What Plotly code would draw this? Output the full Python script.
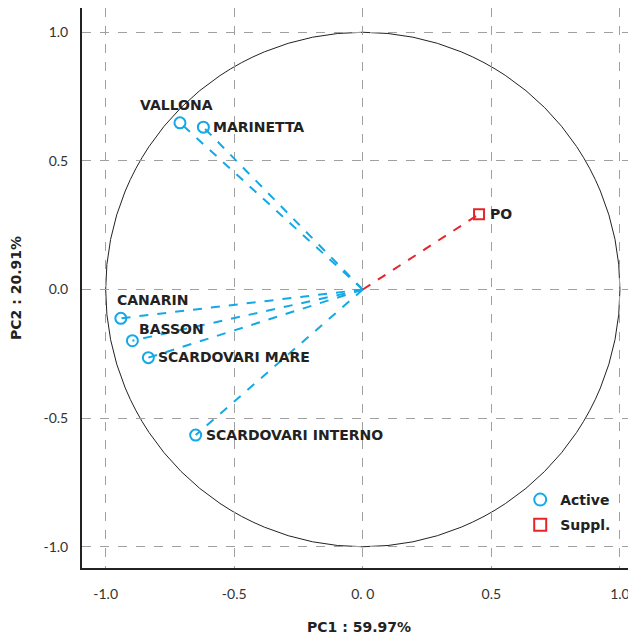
import plotly.graph_objects as go

# Active variables (PC1, PC2 loadings)
active_names = ["VALLONA", "MARINETTA", "CANARIN", "BASSON", "SCARDOVARI MARE", "SCARDOVARI INTERNO"]
active_pc1 = [-0.711, -0.620, -0.941, -0.896, -0.834, -0.650]
active_pc2 = [0.648, 0.631, -0.112, -0.199, -0.265, -0.566]

# Supplementary variables
suppl_names = ["PO"]
suppl_pc1 = [0.452]
suppl_pc2 = [0.293]

x_ticks = [-1.0, -0.5, 0.0, 0.5, 1.0]
x_ticktext = ["-1.0", "-0.5", "0. 0", "0.5", "1.0"]
y_ticks = [-1.0, -0.5, 0.0, 0.5, 1.0]
y_ticktext = ["-1.0", "-0.5", "0.0", "0.5", "1.0"]

x_title = "PC1 : 59.97%"
y_title = "PC2 : 20.91%"

BLUE = "#12a9e6"
RED = "#e8242b"
LABEL_FONT = dict(family="DejaVu Sans", size=14, color="#222222", weight="bold")

fig = go.Figure()

def spokes(xs, ys):
    lx, ly = [], []
    for x, y in zip(xs, ys):
        lx += [0, x, None]
        ly += [0, y, None]
    return lx, ly

ax, ay = spokes(active_pc1, active_pc2)
fig.add_trace(go.Scatter(x=ax, y=ay, mode="lines", line=dict(color=BLUE, width=2, dash="dash"),
                         showlegend=False, hoverinfo="skip"))
sx, sy = spokes(suppl_pc1, suppl_pc2)
fig.add_trace(go.Scatter(x=sx, y=sy, mode="lines", line=dict(color=RED, width=2, dash="dash"),
                         showlegend=False, hoverinfo="skip"))

fig.add_trace(go.Scatter(x=active_pc1, y=active_pc2, mode="markers", name="Active", legendgroup="a",
                         marker=dict(symbol="circle-open", size=11, color=BLUE, line=dict(width=2, color=BLUE)),
                         text=active_names))
fig.add_trace(go.Scatter(x=suppl_pc1, y=suppl_pc2, mode="markers", name="Suppl.", legendgroup="s",
                         marker=dict(symbol="square-open", size=10, color=RED, line=dict(width=2, color=RED)),
                         text=suppl_names))

# label offsets (pixels): xshift, yshift
label_style = {
    "VALLONA": (-42, 18),
    "MARINETTA": (8, 0),
    "CANARIN": (-6, 18),
    "BASSON": (5, 12),
    "SCARDOVARI MARE": (8, 1),
    "SCARDOVARI INTERNO": (8, 0),
    "PO": (9, 0),
}
for n, x, y in list(zip(active_names, active_pc1, active_pc2)) + list(zip(suppl_names, suppl_pc1, suppl_pc2)):
    dx, dy = label_style[n]
    fig.add_annotation(x=x, y=y, text=n, showarrow=False, xanchor="left", yanchor="middle",
                       xshift=dx, yshift=dy, font=LABEL_FONT)

# unit circle
fig.add_shape(type="circle", xref="x", yref="y", x0=-1, y0=-1, x1=1, y1=1,
              line=dict(color="#222222", width=1), layer="below")

fig.update_layout(
    width=628, height=630,
    margin=dict(l=74, r=0, t=0, b=70, autoexpand=False),
    paper_bgcolor="white", plot_bgcolor="white",
    font=dict(family="Lato", size=14, color="#333333"),
    legend=dict(x=0.791, y=0.15, xanchor="left", yanchor="top", bgcolor="rgba(0,0,0,0)",
                font=dict(family="DejaVu Sans", size=14, color="#222222", weight="bold"),
                itemsizing="constant", traceorder="grouped", tracegroupgap=4),
)
fig.update_xaxes(range=[-1.092, 1.0624], tickvals=x_ticks, ticktext=x_ticktext, automargin=False,
                 showgrid=True, gridcolor="#a0a0a0", griddash="dash", gridwidth=1,
                 zeroline=False, showline=True, linecolor="#222222", linewidth=2, mirror=True,
                 ticks="outside", ticklen=12, tickcolor="rgba(0,0,0,0)",
                 title=dict(text=x_title, standoff=21,
                            font=dict(family="DejaVu Sans", size=14, color="#222222", weight="bold")))
fig.update_yaxes(range=[-1.0826, 1.0943], tickvals=y_ticks, ticktext=y_ticktext, automargin=False,
                 showgrid=True, gridcolor="#a0a0a0", griddash="dash", gridwidth=1,
                 zeroline=False, showline=True, linecolor="#222222", linewidth=2, mirror=False,
                 ticks="outside", ticklen=9, tickcolor="rgba(0,0,0,0)",
                 title=dict(text=y_title, standoff=22,
                            font=dict(family="DejaVu Sans", size=14, color="#222222", weight="bold")))

fig.write_html("out.html")
